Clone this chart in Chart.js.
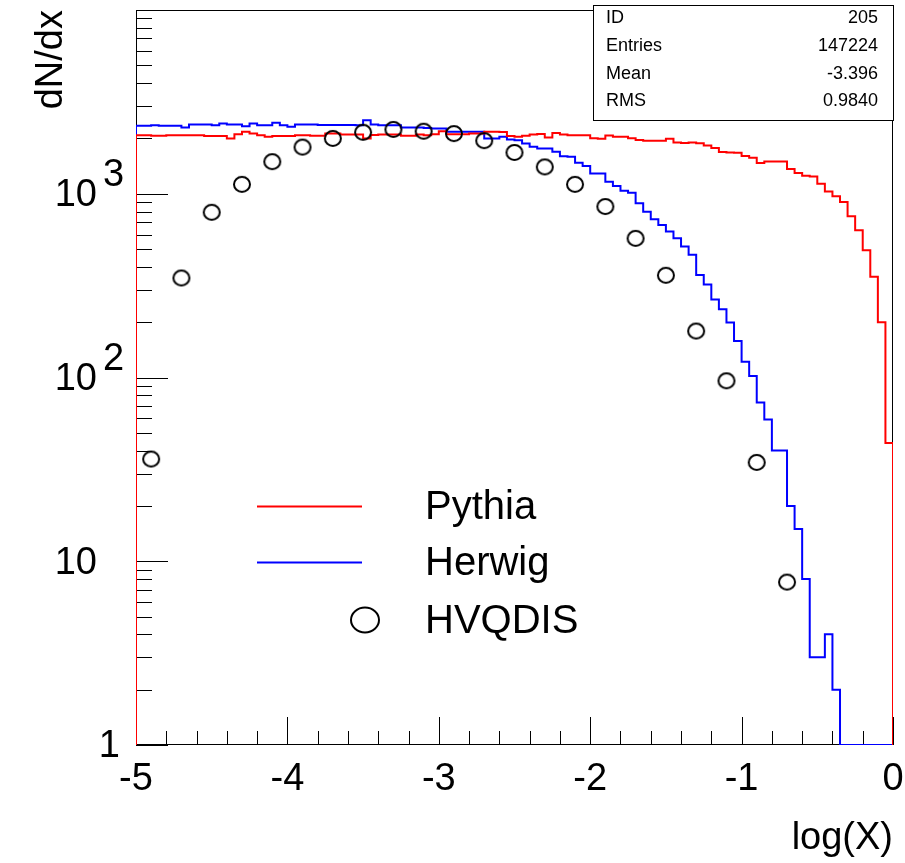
<!DOCTYPE html>
<html><head><meta charset="utf-8">
<script src="https://cdn.jsdelivr.net/npm/chart.js@4.4.0/dist/chart.umd.min.js"></script>
<style>html,body{margin:0;padding:0;background:#fff;} #wrap{width:905px;height:863px;position:relative;}</style>
</head><body><div id="wrap"><canvas id="c" width="905" height="863"></canvas></div>
<script>
// ---- axis ranges / binning ----
const X_MIN = -5, X_MAX = 0;
const Y_MIN = 1, Y_MAX = 10000;

// ---- series (100 bins of width 0.05 from -5 to 0) ----
const pythia = [
 2083,2083,2068,2068,2083,2083,2083,2083,2083,2060,
 2060,2060,2000,2110,2173,2128,2083,2042,2060,2060,
 2060,2083,2083,2068,2068,2128,2128,2100,2100,2100,
 2000,2090,2100,2100,2100,2070,2070,2100,2080,2110,
 2190,2110,2110,2110,2128,2128,2173,2173,2170,2060,
 2040,2068,2100,2115,2025,2140,2100,2080,2080,2080,
 2005,1995,2075,2045,2045,2005,1960,1945,1945,1945,
 1995,1900,1890,1900,1880,1830,1775,1690,1675,1670,
 1605,1570,1468,1500,1500,1500,1362,1295,1254,1243,
 1135,1030,968,902,754,633,493,353,200,44
];
const herwig = [
 2343,2343,2361,2343,2343,2343,2294,2382,2382,2382,
 2361,2411,2382,2382,2330,2411,2361,2361,2435,2361,
 2315,2382,2382,2382,2370,2370,2370,2370,2370,2360,
 2513,2382,2361,2361,2361,2294,2294,2294,2280,2265,
 2265,2174,2174,2174,2174,2174,2000,2000,2042,1974,
 1957,1877,1802,1764,1764,1693,1602,1590,1475,1414,
 1290,1290,1163,1101,1039,1014,887,799,726,676,
 623,572,516,465,361,321,266,235,199,158,
 122,102,73,59,40,40,20,15,8,3,
 3,4,2,0,0,0,0,0,0,0
];
const hvqdisX = [-4.9,-4.7,-4.5,-4.3,-4.1,-3.9,-3.7,-3.5,-3.3,-3.1,-2.9,-2.7,-2.5,-2.3,-2.1,-1.9,-1.7,-1.5,-1.3,-1.1,-0.9,-0.7];
const hvqdisY = [36,348,793,1125,1495,1795,2000,2160,2240,2190,2125,1945,1678,1400,1125,852,572,360,179,96,34.5,7.7];

// ---- labels ----
const seriesNames = ['Pythia','Herwig','HVQDIS'];
const seriesColors = ['#ff0000','#0000ff','#000000'];
const xTickValues = [-5,-4,-3,-2,-1,0];
const yTickValues = [1,10,100,1000];
const yTickBase = ['1','10','10','10'];
const yTickExp  = ['','','2','3'];
const xTitle = 'log(X)';
const yTitle = 'dN/dx';
const statsLabels = ['ID','Entries','Mean','RMS'];
const statsValues = ['205','147224','-3.396','0.9840'];

const FONT = '"Liberation Sans", Arial, Helvetica, sans-serif';

function histPoints(vals){
  const w = (X_MAX - X_MIN) / vals.length;
  const shown = v => (v > 0 ? v : Y_MIN);   // empty bins drawn on the axis floor
  const pts = [{x: X_MIN, y: Y_MIN}];
  vals.forEach((v, i) => pts.push({x: X_MIN + i * w, y: shown(v)}));
  pts.push({x: X_MAX, y: shown(vals[vals.length - 1])});
  pts.push({x: X_MAX, y: Y_MIN});
  return pts;
}

function ellipseMarker(rx, ry, lw){
  const c = document.createElement('canvas');
  c.width = Math.ceil(2 * rx + lw + 2); c.height = Math.ceil(2 * ry + lw + 2);
  const g = c.getContext('2d');
  g.strokeStyle = '#000'; g.lineWidth = lw;
  g.beginPath(); g.ellipse(c.width / 2, c.height / 2, rx, ry, 0, 0, Math.PI * 2); g.stroke();
  return c;
}
const marker = ellipseMarker(8, 7.5, 2);

const rootStyle = {
  id: 'rootStyle',
  beforeDatasetsDraw(chart){
    const {ctx, chartArea: a, scales: {x, y}} = chart;
    ctx.save();
    ctx.strokeStyle = '#000'; ctx.lineWidth = 1;
    ctx.strokeRect(a.left + 0.5, a.top + 0.5, a.right - a.left - 1, a.bottom - a.top - 1);
    ctx.beginPath();
    // x ticks: major each unit, minor each 0.2
    for (let k = 0; k <= 25; k++){
      const v = X_MIN + k * 0.2;
      const px = Math.round(x.getPixelForValue(v)) + 0.5;
      const len = (k % 5 === 0) ? 28 : 14;
      ctx.moveTo(px, a.bottom); ctx.lineTo(px, a.bottom - len);
    }
    // y ticks (log)
    for (let d = 0; d < 4; d++){
      for (let m = 1; m <= 9; m++){
        const v = m * Math.pow(10, d);
        const py = Math.round(y.getPixelForValue(v)) + 0.5;
        const len = m === 1 ? 32 : 16;
        ctx.moveTo(a.left, py); ctx.lineTo(a.left + len, py);
      }
    }
    ctx.stroke();
    // y tick labels with superscripts
    ctx.fillStyle = '#000';
    ctx.textBaseline = 'middle';
    yTickValues.forEach((v, i) => {
      const py = y.getPixelForValue(v);
      ctx.font = '38px ' + FONT;
      if (yTickExp[i]){
        ctx.textAlign = 'right';
        ctx.fillText(yTickBase[i], 97, py + 2);
        ctx.textAlign = 'left';
        ctx.fillText(yTickExp[i], 103, py - 18);
      } else if (yTickBase[i].length > 1){
        ctx.textAlign = 'right';
        ctx.fillText(yTickBase[i], 97, py + 2);
      } else {
        ctx.textAlign = 'right';
        ctx.fillText(yTickBase[i], 120, py + 2);
      }
    });
    ctx.restore();
  },
  afterDatasetsDraw(chart){
    const {ctx} = chart;
    ctx.save();
    // legend
    const rows = [506, 562, 620];
    ctx.lineWidth = 2;
    [0, 1].forEach(i => {
      ctx.strokeStyle = seriesColors[i];
      ctx.beginPath(); ctx.moveTo(257, rows[i] + 0.5); ctx.lineTo(362, rows[i] + 0.5); ctx.stroke();
    });
    ctx.strokeStyle = seriesColors[2];
    ctx.beginPath(); ctx.ellipse(365, rows[2], 14, 12.5, 0, 0, Math.PI * 2); ctx.stroke();
    ctx.fillStyle = '#000';
    ctx.font = '40px ' + FONT;
    ctx.textAlign = 'left'; ctx.textBaseline = 'middle';
    seriesNames.forEach((n, i) => ctx.fillText(n, 425, rows[i] + 2));
    ctx.restore();
  },
  afterDraw(chart){
    const {ctx} = chart;
    ctx.save();
    // stats box
    ctx.fillStyle = '#fff';
    ctx.fillRect(593, 5, 301, 116);
    ctx.strokeStyle = '#000'; ctx.lineWidth = 1;
    ctx.strokeRect(593.5, 5.5, 300, 115);
    ctx.fillStyle = '#000';
    ctx.font = '18px ' + FONT;
    ctx.textBaseline = 'alphabetic';
    statsLabels.forEach((l, i) => {
      const by = 23 + i * 27.8;
      ctx.textAlign = 'left'; ctx.fillText(l, 606, by);
      ctx.textAlign = 'right'; ctx.fillText(statsValues[i], 878, by);
    });
    ctx.restore();
  }
};

new Chart(document.getElementById('c'), {
  type: 'line',
  data: {
    datasets: [
      { label: seriesNames[2], type: 'scatter', order: 0,
        data: hvqdisX.map((xv, i) => ({x: xv, y: hvqdisY[i]})),
        pointStyle: marker, pointRadius: 9, showLine: false,
        borderColor: seriesColors[2], backgroundColor: 'rgba(0,0,0,0)' },
      { label: seriesNames[0], order: 1, data: histPoints(pythia),
        borderColor: seriesColors[0], borderWidth: 2, pointRadius: 0, stepped: true, fill: false, tension: 0 },
      { label: seriesNames[1], order: 2, data: histPoints(herwig),
        borderColor: seriesColors[1], borderWidth: 2, pointRadius: 0, stepped: true, fill: false, tension: 0 }
    ]
  },
  options: {
    responsive: false,
    animation: false,
    devicePixelRatio: 1,
    layout: { padding: { left: 0, top: 8, right: 12, bottom: 0 } },
    plugins: { legend: { display: false }, tooltip: { enabled: false } },
    scales: {
      x: {
        type: 'linear', min: X_MIN, max: X_MAX,
        grid: { display: false, drawTicks: false },
        border: { display: false },
        afterBuildTicks: s => { s.ticks = xTickValues.map(v => ({value: v})); },
        ticks: { padding: 12, autoSkip: false, maxRotation: 0, color: '#000',
                 font: { family: FONT, size: 38 },
                 callback: v => String(v) },
        title: { display: true, text: xTitle, align: 'end', color: '#000',
                 font: { family: FONT, size: 38 }, padding: { top: 0, bottom: 2 } },
        afterFit: s => { s.height = 118; s.paddingLeft = 0; s.paddingRight = 0; }
      },
      y: {
        type: 'logarithmic', min: Y_MIN, max: Y_MAX,
        grid: { display: false, drawTicks: false },
        border: { display: false },
        ticks: { display: false },
        title: { display: true, text: yTitle, align: 'end', color: '#000',
                 font: { family: FONT, size: 38 }, padding: { top: 29, bottom: 0 } },
        afterFit: s => { s.width = 136; }
      }
    }
  },
  plugins: [rootStyle]
});
</script>
</body></html>
